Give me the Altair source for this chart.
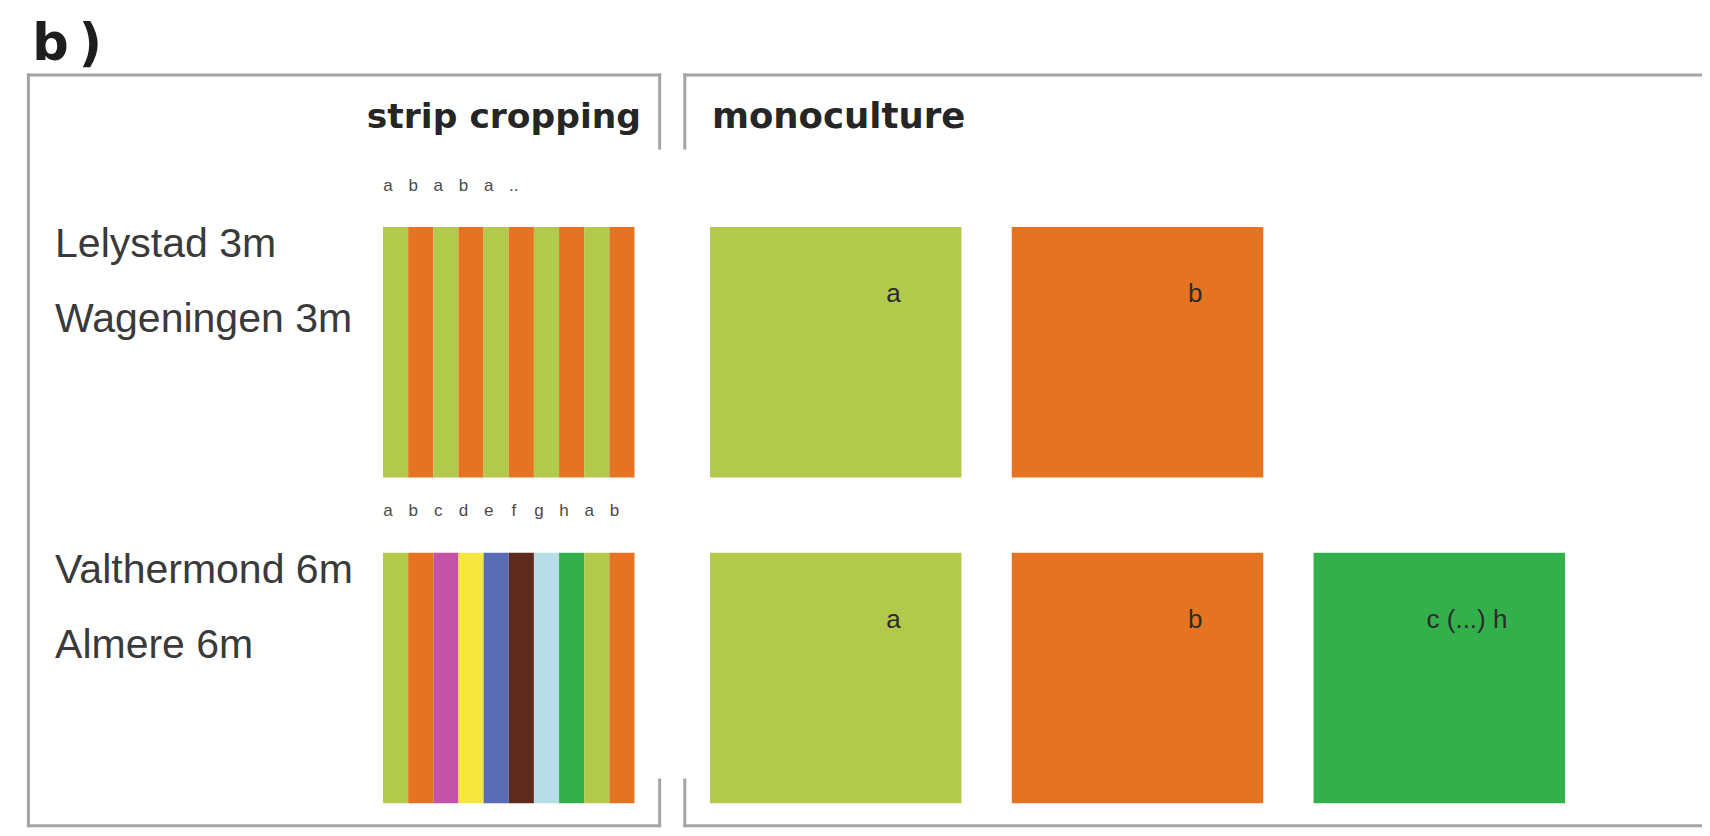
import altair as alt
import pandas as pd

# ---------------- data ----------------
crop_letters = ["a", "b", "c", "d", "e", "f", "g", "h"]
crop_colors = ["#b3c94c", "#e57422", "#c452a6", "#f6e73e",
               "#5a6cb6", "#5f2a1e", "#b8dde8", "#33b04b"]

sites = ["Lelystad 3m", "Wageningen 3m", "Valthermond 6m", "Almere 6m"]
site_row = [0, 0, 1, 1]

strip_rows = [
    ["a", "b", "a", "b", "a", "b", "a", "b", "a", "b"],
    ["a", "b", "c", "d", "e", "f", "g", "h", "a", "b"],
]
strip_marks = [
    ["a", "b", "a", "b", "a", ".."],
    ["a", "b", "c", "d", "e", "f", "g", "h", "a", "b"],
]
mono_rows = [["a", "b"], ["a", "b", "h"]]
mono_labels = [["a", "b"], ["a", "b", "c (...) h"]]

# ---------------- layout (grid units: one strip = 1) ----------------
ROW_TOP = [0, 13]
BLOCK = 10
MONO_X0 = 13
MONO_STEP = 12
SITE_OFFSETS = [1.2, 4.2]

W, H = 1694, 820
xs = alt.Scale(domain=[-14.911, 52.445], nice=False, zero=False)
ys = alt.Scale(domain=[-8.743, 23.992], nice=False, zero=False, reverse=True)

# strips
strip_df = pd.DataFrame([
    {"x": i, "x2": i + 1, "y": ROW_TOP[r], "y2": ROW_TOP[r] + BLOCK, "crop": c}
    for r, row in enumerate(strip_rows) for i, c in enumerate(row)
])
# monoculture squares
mono_df = pd.DataFrame([
    {"x": MONO_X0 + k * MONO_STEP, "x2": MONO_X0 + k * MONO_STEP + BLOCK,
     "y": ROW_TOP[r], "y2": ROW_TOP[r] + BLOCK, "crop": c}
    for r, row in enumerate(mono_rows) for k, c in enumerate(row)
])
blocks_df = pd.concat([strip_df, mono_df], ignore_index=True)

color = alt.Color("crop:N", scale=alt.Scale(domain=crop_letters, range=crop_colors), legend=None)

rects = alt.Chart(blocks_df).mark_rect().encode(
    x=alt.X("x:Q", scale=xs, axis=None),
    x2="x2:Q",
    y=alt.Y("y:Q", scale=ys, axis=None),
    y2="y2:Q",
    color=color,
)

# frames
L, R1, L2, RR = -14.1, 11.0, 12.0, 52.6
T, GT, GB, B = -6.07, -3.15, 22.08, 23.9
frame_df = pd.DataFrame([
    {"x": L, "x2": R1, "y": T, "y2": T},
    {"x": L, "x2": L, "y": T, "y2": B},
    {"x": L, "x2": R1, "y": B, "y2": B},
    {"x": R1, "x2": R1, "y": T, "y2": GT},
    {"x": R1, "x2": R1, "y": GB, "y2": B},
    {"x": L2, "x2": RR, "y": T, "y2": T},
    {"x": L2, "x2": L2, "y": T, "y2": GT},
    {"x": L2, "x2": L2, "y": GB, "y2": B},
    {"x": L2, "x2": RR, "y": B, "y2": B},
])
frames = alt.Chart(frame_df).mark_rule(color="#a4a4a4", strokeWidth=3, strokeCap="square").encode(
    x=alt.X("x:Q", scale=xs, axis=None), x2="x2:Q",
    y=alt.Y("y:Q", scale=ys, axis=None), y2="y2:Q",
)


def text_layer(df, **mark):
    return alt.Chart(df).mark_text(**mark).encode(
        x=alt.X("x:Q", scale=xs, axis=None),
        y=alt.Y("y:Q", scale=ys, axis=None),
        text="t:N",
    )


panel = text_layer(pd.DataFrame([{"x": -13.95, "y": -6.65, "t": "b\u2009)"}]),
                   font="DejaVu Sans", fontWeight="bold", fontSize=51, align="left",
                   baseline="alphabetic", color="#1e1e1e")
strip_title = text_layer(pd.DataFrame([{"x": 10.26, "y": -3.95, "t": "strip cropping"}]),
                         font="DejaVu Sans", fontWeight="bold", fontSize=34.5, align="right",
                         baseline="alphabetic", color="#262626")
mono_title = text_layer(pd.DataFrame([{"x": 13.08, "y": -3.95, "t": "monoculture"}]),
                        font="DejaVu Sans", fontWeight="bold", fontSize=35.5, align="left",
                        baseline="alphabetic", color="#262626")

site_df = pd.DataFrame([
    {"x": -13.04, "y": ROW_TOP[site_row[i]] + SITE_OFFSETS[i % 2], "t": s}
    for i, s in enumerate(sites)
])
site_text = text_layer(site_df, font="Liberation Sans", fontSize=41, align="left",
                       baseline="alphabetic", color="#3a3a3a")

marks_df = pd.DataFrame([
    {"x": i + 0.2, "y": ROW_TOP[r] - 1.65, "t": m}
    for r, row in enumerate(strip_marks) for i, m in enumerate(row)
])
strip_letters = text_layer(marks_df, font="Liberation Sans", fontSize=17, align="center",
                           baseline="middle", color="#4a4a4a")

mono_lab_df = pd.DataFrame([
    {"x": MONO_X0 + k * MONO_STEP + (6.1 if len(lab) > 1 else 7.3),
     "y": ROW_TOP[r] + 3.0, "t": lab}
    for r, row in enumerate(mono_labels) for k, lab in enumerate(row)
])
mono_text = text_layer(mono_lab_df, font="Liberation Sans", fontSize=26, align="center",
                       baseline="alphabetic", color="#2b2b2b")

chart = alt.layer(
    rects, frames, panel, strip_title, mono_title, site_text, strip_letters, mono_text
).properties(
    width=W, height=H, padding=0, autosize=alt.AutoSizeParams(type="none"),
    background="white",
).configure_view(stroke=None)

chart.save("out.html", embed_options={"renderer": "svg", "actions": False})
